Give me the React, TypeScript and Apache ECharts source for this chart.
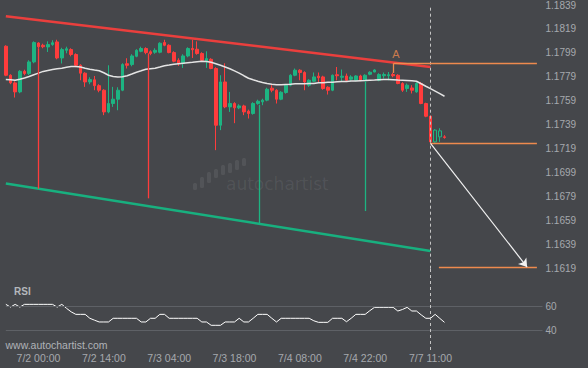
import React, { useEffect, useRef } from "react";
import * as echarts from "echarts";

// ---------- data ----------
const tickLabels = ["7/2 00:00", "7/2 14:00", "7/3 04:00", "7/3 18:00", "7/4 08:00", "7/4 22:00", "7/7 11:00"];
const priceMin = 1.1619;
const priceMax = 1.1839;
const priceStep = 0.002;
const rsiMin = 23.45;
const rsiMax = 91.76;
const rsiLevels = [60, 40];

// [open, close, low, high]
const candles = [
  [1.18046, 1.17804, 1.17796, 1.18054],
  [1.17804, 1.1774, 1.17729, 1.17812],
  [1.1774, 1.17665, 1.17618, 1.17754],
  [1.17665, 1.17837, 1.17654, 1.17846],
  [1.17837, 1.17818, 1.17804, 1.1785],
  [1.17818, 1.17915, 1.17804, 1.17929],
  [1.17915, 1.18077, 1.17904, 1.18087],
  [1.18073, 1.18042, 1.18029, 1.18079],
  [1.18054, 1.18042, 1.18029, 1.18067],
  [1.1804, 1.1806, 1.17998, 1.18087],
  [1.1806, 1.18075, 1.1805, 1.18096],
  [1.18082, 1.17948, 1.17937, 1.181],
  [1.17948, 1.18018, 1.17902, 1.18033],
  [1.18012, 1.18025, 1.17987, 1.18042],
  [1.18018, 1.17977, 1.17962, 1.18029],
  [1.17977, 1.17887, 1.17871, 1.17987],
  [1.17887, 1.17821, 1.17762, 1.17896],
  [1.17821, 1.17748, 1.17707, 1.17829],
  [1.17748, 1.17768, 1.17729, 1.17787],
  [1.17766, 1.17717, 1.17679, 1.17798],
  [1.17717, 1.17679, 1.17662, 1.17729],
  [1.17679, 1.17498, 1.17471, 1.17687],
  [1.17498, 1.17568, 1.17487, 1.17887],
  [1.17568, 1.17604, 1.1754, 1.17707],
  [1.17604, 1.17679, 1.17512, 1.17704],
  [1.17679, 1.17893, 1.17671, 1.17904],
  [1.179, 1.17887, 1.1786, 1.17946],
  [1.17893, 1.17965, 1.17879, 1.17979],
  [1.17962, 1.18012, 1.17954, 1.18021],
  [1.18004, 1.18027, 1.17996, 1.18042],
  [1.18027, 1.17993, 1.17979, 1.18037],
  [1.18, 1.17985, 1.17971, 1.18012],
  [1.17996, 1.18012, 1.17983, 1.18029],
  [1.17996, 1.18071, 1.17987, 1.18079],
  [1.18077, 1.18054, 1.18046, 1.181],
  [1.18054, 1.17993, 1.17987, 1.18062],
  [1.17993, 1.17921, 1.17912, 1.18004],
  [1.17929, 1.17902, 1.17882, 1.17946],
  [1.17902, 1.17965, 1.17865, 1.17979],
  [1.17965, 1.18027, 1.17954, 1.18037],
  [1.18027, 1.18017, 1.17948, 1.181],
  [1.18021, 1.17985, 1.17975, 1.18087],
  [1.17985, 1.17929, 1.17921, 1.17996],
  [1.17921, 1.17943, 1.17865, 1.18004],
  [1.17937, 1.1786, 1.17854, 1.17946],
  [1.1786, 1.17387, 1.17179, 1.17871],
  [1.17387, 1.17748, 1.17346, 1.17804],
  [1.17748, 1.1754, 1.17529, 1.17904],
  [1.1754, 1.17568, 1.17498, 1.17665],
  [1.17568, 1.17532, 1.17404, 1.17579],
  [1.17532, 1.17548, 1.17521, 1.17562],
  [1.17548, 1.17498, 1.17471, 1.17558],
  [1.17504, 1.17485, 1.17443, 1.17517],
  [1.17485, 1.17568, 1.17475, 1.17579],
  [1.17568, 1.17587, 1.17558, 1.176],
  [1.17582, 1.17596, 1.17554, 1.17608],
  [1.17596, 1.17687, 1.17587, 1.177],
  [1.17696, 1.17679, 1.17662, 1.17721],
  [1.17679, 1.17604, 1.17568, 1.17687],
  [1.17604, 1.17662, 1.17596, 1.17671],
  [1.1766, 1.17721, 1.1765, 1.17729],
  [1.17721, 1.17804, 1.17712, 1.17812],
  [1.17804, 1.17846, 1.17796, 1.1786],
  [1.17846, 1.17827, 1.17762, 1.17854],
  [1.17827, 1.17748, 1.17679, 1.17837],
  [1.17721, 1.17762, 1.17707, 1.17771],
  [1.17754, 1.1779, 1.17746, 1.17827],
  [1.17796, 1.17783, 1.17748, 1.17827],
  [1.1779, 1.17693, 1.17683, 1.178],
  [1.17704, 1.17679, 1.17643, 1.17712],
  [1.17679, 1.17804, 1.17671, 1.1781],
  [1.17808, 1.178, 1.17762, 1.17873],
  [1.17787, 1.17796, 1.17748, 1.17852],
  [1.17798, 1.17762, 1.17748, 1.17818],
  [1.17771, 1.1779, 1.17758, 1.17804],
  [1.17762, 1.17798, 1.17754, 1.17804],
  [1.17798, 1.17762, 1.17754, 1.17808],
  [1.17762, 1.17804, 1.17754, 1.17812],
  [1.17812, 1.17829, 1.17804, 1.17837],
  [1.17831, 1.17848, 1.17829, 1.17854],
  [1.17762, 1.1781, 1.17754, 1.17821],
  [1.178, 1.1781, 1.17777, 1.17827],
  [1.178, 1.17808, 1.17762, 1.17831],
  [1.1781, 1.178, 1.17787, 1.17825],
  [1.17804, 1.17735, 1.17729, 1.17812],
  [1.17735, 1.17679, 1.17665, 1.17746],
  [1.17693, 1.17721, 1.17665, 1.17735],
  [1.17698, 1.17679, 1.17652, 1.17721],
  [1.17665, 1.17735, 1.17658, 1.17746],
  [1.17735, 1.17568, 1.17562, 1.17748],
  [1.17568, 1.17462, 1.17454, 1.17575],
  [1.17462, 1.17248, 1.17235, 1.17467],
  [1.17248, 1.17346, 1.17242, 1.17354],
  [1.1734, 1.1729, 1.17248, 1.17362],
  [1.1729, 1.17285, 1.17275, 1.17304],
];
const hollowBars = [92, 93];

const maValues = [
  1.17768, 1.17766, 1.17762, 1.17771, 1.17781, 1.17794, 1.17808, 1.17822, 1.17836, 1.17844,
  1.17852, 1.17858, 1.17863, 1.17871, 1.17877, 1.17876, 1.17872, 1.17862, 1.17854, 1.17847,
  1.17841, 1.17825, 1.17804, 1.17794, 1.1779, 1.17792, 1.178, 1.17814, 1.17829, 1.17841,
  1.17854, 1.17858, 1.17862, 1.17872, 1.17883, 1.17889, 1.17896, 1.179, 1.17904, 1.17908,
  1.17912, 1.17917, 1.17921, 1.17918, 1.17912, 1.179, 1.17887, 1.17873, 1.17858, 1.1784,
  1.17822, 1.178, 1.17779, 1.17766, 1.17754, 1.17743, 1.17735, 1.17729, 1.17725, 1.17725,
  1.17727, 1.17729, 1.17732, 1.17733, 1.17732, 1.17735, 1.17736, 1.17741, 1.17742, 1.17745,
  1.17746, 1.17749, 1.17751, 1.17751, 1.17755, 1.17756, 1.17759, 1.1776, 1.17763, 1.17764,
  1.17767, 1.17768, 1.17769, 1.17767, 1.17764, 1.17762, 1.1776, 1.17758, 1.17754, 1.17733,
  1.17712, 1.17692, 1.17671, 1.1765, 1.17629,
];

const rsiValues = [
  61.8, 59.5, 61.8, 59.5, 61.8, 61.8, 61.8, 61.8, 61.8, 61.8,
  61.8, 59.5, 61.8, 58.5, 55.5, 53.4, 53.4, 53.4, 50.1, 48.5,
  47, 47, 47, 50.1, 50.1, 50.1, 50.1, 50.1, 50.1, 47,
  47, 50.1, 50.1, 53.4, 53.4, 50.1, 50.1, 50.1, 50.1, 50.1,
  50.1, 50.1, 47, 47, 44.2, 44.2, 44.2, 47, 47, 47,
  50.1, 47, 47, 50.1, 53.4, 53.4, 53.4, 50.1, 47, 50.1,
  50.1, 50.1, 50.1, 50.1, 50.1, 50.1, 48, 46.7, 46.7, 46.7,
  50.1, 50.1, 50.1, 47.2, 50.1, 53.4, 53.4, 53.4, 56.5, 59.3,
  59.3, 59.3, 59.3, 59.3, 56.2, 57.5, 59.3, 56.2, 56.2, 53,
  50.1, 50.1, 53.4, 50, 46.7,
];

// pattern drawing (x = bar index, y = price)
const resistance = [[0, 1.18297], [91, 1.17873]];
const support = [[0, 1.169], [91, 1.16337]];
const redTouches = [[7, 1.18029, 1.16857], [30.5, 1.17987, 1.16777]];
const greenTouches = [[54.3, 1.17558, 1.16568], [77.1, 1.17754, 1.16671]];
const pointA = [83.1, 1.17823, 1.17904];
const entryLevel = 1.17235;
const targetLevel = 1.16202;
const forecast = [[91, 1.17235], [111.7, 1.16204]];
const nowIndex = 91;
const levelEnd = 113.8;
const targetStart = 92.8;
const totalSlots = 116;

// ---------- build ----------
function buildCategories(): string[] {
  const out: string[] = [];
  const fmt = (d: number, h: number) => `7/${d} ${String(h).padStart(2, "0")}:00`;
  let day = 1;
  let hour = 17;
  for (let i = 0; i < 78; i++) {
    out.push(fmt(day, hour));
    hour++;
    if (hour === 24) { hour = 0; day++; }
  }
  day = 6;
  hour = 22;
  while (out.length < totalSlots) {
    out.push(fmt(day, hour));
    hour++;
    if (hour === 24) { hour = 0; day++; }
  }
  return out;
}

const FONT = '"Liberation Sans", Arial, Helvetica, sans-serif';
const BG = "#45474b";
const UP = "#1db482";
const DOWN = "#ff3c3c";
const ORANGE = "#ee8a4e";
const LABEL = "#a6a9ae";
const GRIDLINE = "#5e6166";
const DASH = "#c4c4c4";

const categories = buildCategories();

const candleData = candles.map((c, i) =>
  hollowBars.includes(i)
    ? { value: c, itemStyle: { color: BG, color0: BG, borderColor: UP, borderColor0: DOWN } }
    : c
);

const seg = (x1: number, y1: number, x2: number, y2: number, color: string, width: number) => [
  { coord: [x1, y1], lineStyle: { color, width, type: "solid" } },
  { coord: [x2, y2] },
];

const overlayLines = [
  ...redTouches.map(([x, a, b]) => seg(x, a, x, b, DOWN, 1.3)),
  ...greenTouches.map(([x, a, b]) => seg(x, a, x, b, UP, 1.3)),
  seg(pointA[0], pointA[1], pointA[0], pointA[2], ORANGE, 1.3),
  seg(pointA[0], pointA[2], levelEnd, pointA[2], ORANGE, 1.3),
  seg(nowIndex, entryLevel, levelEnd, entryLevel, ORANGE, 1.3),
  seg(targetStart, targetLevel, levelEnd, targetLevel, ORANGE, 1.3),
  [
    { coord: forecast[0], symbol: "none", lineStyle: { color: "#f2f2f2", width: 1.2, type: "solid" } },
    { coord: forecast[1], symbol: "arrow", symbolSize: 8 },
  ],
];

const logoBars = [
  [193, 183, 7],
  [200, 177, 11],
  [207, 172, 11],
  [214, 169, 9],
  [221, 165, 10],
  [228, 163, 10],
  [235, 160, 10],
  [242, 158, 8],
];

const option: any = {
  backgroundColor: BG,
  animation: false,
  textStyle: { fontFamily: FONT },
  grid: [
    { left: 5.83, top: 4.7, width: 536.67, height: 264 },
    { left: 5.83, top: 268.7, width: 536.67, height: 81.3 },
  ],
  xAxis: [
    {
      type: "category", gridIndex: 0, data: categories, boundaryGap: false,
      axisLine: { show: false }, axisTick: { show: false }, axisLabel: { show: false }, splitLine: { show: false },
    },
    { type: "value", gridIndex: 0, min: 0, max: totalSlots - 1, show: false },
    {
      type: "category", gridIndex: 1, data: categories, boundaryGap: false,
      axisLine: { show: false }, axisTick: { show: false }, splitLine: { show: false },
      axisLabel: {
        interval: (_i: number, v: string) => tickLabels.includes(v),
        margin: 2, color: LABEL, fontSize: 10.5, fontFamily: FONT,
      },
    },
  ],
  yAxis: [
    {
      type: "value", gridIndex: 0, position: "right", min: priceMin, max: priceMax, interval: priceStep,
      axisLine: { show: false }, axisTick: { show: false }, splitLine: { show: false },
      axisLabel: { formatter: (v: number) => v.toFixed(4), margin: 3, color: LABEL, fontSize: 10, fontFamily: FONT },
    },
    { type: "value", gridIndex: 1, min: rsiMin, max: rsiMax, show: false },
  ],
  graphic: [
    {
      type: "group", silent: true, z: 1,
      children: [
        ...logoBars.map(([x, y, h]) => ({
          type: "rect", shape: { x, y, width: 4, height: h, r: 1.5 },
          style: { fill: "rgba(255,255,255,0.075)" },
        })),
        {
          type: "text", x: 226, y: 184,
          style: {
            text: "autochartist", font: '17px "DejaVu Sans", sans-serif', fill: "rgba(255,255,255,0.075)",
            verticalAlign: "middle", textVerticalAlign: "middle",
          },
        },
      ],
    },
    {
      type: "text", x: 14, y: 291, silent: true,
      style: {
        text: "RSI", font: `bold 10px ${FONT}`, fill: "#b4b7bc",
        verticalAlign: "middle", textVerticalAlign: "middle",
      },
    },
    {
      type: "text", x: 5.5, y: 345, silent: true,
      style: {
        text: "www.autochartist.com", font: `10.5px ${FONT}`, fill: "#b0b3b8",
        verticalAlign: "middle", textVerticalAlign: "middle",
      },
    },
  ],
  series: [
    {
      type: "candlestick", xAxisIndex: 0, yAxisIndex: 0, data: candleData, barWidth: 3.2, clip: true, z: 2,
      silent: true,
      itemStyle: { color: UP, color0: DOWN, borderColor: UP, borderColor0: DOWN, borderWidth: 1 },
      markLine: {
        silent: true, symbol: ["none", "none"], label: { show: false },
        lineStyle: { color: DASH, type: [3, 3], width: 1 },
        data: [{ xAxis: nowIndex }],
      },
    },
    {
      type: "line", xAxisIndex: 0, yAxisIndex: 0, data: maValues, showSymbol: false, symbol: "none",
      lineStyle: { color: "#e4e4e4", width: 1.5 }, z: 3, silent: true,
    },
    {
      type: "line", xAxisIndex: 1, yAxisIndex: 0, data: resistance, symbol: "none",
      lineStyle: { color: "#ea3f3d", width: 2.5 }, z: 4, silent: true,
      markLine: {
        silent: true, symbol: ["none", "none"], label: { show: false },
        data: overlayLines,
      },
    },
    {
      type: "line", xAxisIndex: 1, yAxisIndex: 0, data: support, symbol: "none",
      lineStyle: { color: "#18b07f", width: 2.5 }, z: 4, silent: true,
    },
    {
      type: "scatter", xAxisIndex: 1, yAxisIndex: 0, data: [[pointA[0] + 0.5, pointA[2]]],
      symbolSize: 1, itemStyle: { color: "transparent" }, silent: true, z: 5,
      label: { show: true, formatter: "A", position: "top", distance: 3, color: ORANGE, fontSize: 11, fontFamily: FONT },
    },
    {
      type: "line", xAxisIndex: 2, yAxisIndex: 1, data: rsiValues, symbol: "none", showSymbol: false,
      lineStyle: { color: "#ffffff", width: 1 }, silent: true, z: 3,
      markLine: {
        silent: true, symbol: ["none", "none"],
        data: [
          ...rsiLevels.map((lv) => ({
            yAxis: lv,
            lineStyle: { color: GRIDLINE, width: 1, type: "solid" },
            label: { show: true, position: "end", formatter: String(lv), color: LABEL, fontSize: 10, fontFamily: FONT, distance: 3 },
          })),
          { xAxis: nowIndex, lineStyle: { color: DASH, width: 1, type: [3, 3] }, label: { show: false } },
        ],
      },
    },
  ],
};

export default function App() {
  const ref = useRef<HTMLDivElement>(null);
  useEffect(() => {
    if (!ref.current) return;
    const chart = echarts.init(ref.current, undefined, { renderer: "svg" });
    chart.setOption(option);
    return () => chart.dispose();
  }, []);
  return (
    <div
      ref={ref}
      style={{ position: "fixed", left: 0, top: 0, width: 588, height: 368, background: BG }}
    />
  );
}
